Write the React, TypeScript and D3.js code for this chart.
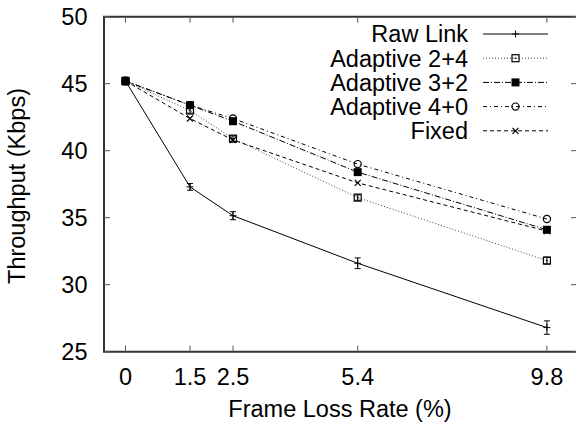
import React from "react";
import * as d3 from "d3";

const LOSS = [0, 1.5, 2.5, 5.4, 9.8];
const SERIES_NAMES = ["Raw Link", "Adaptive 2+4", "Adaptive 3+2", "Adaptive 4+0", "Fixed"];
const RAW_LINK = [45.2, 37.3, 35.15, 31.6, 26.8];
const RAW_LINK_ERR = [0.3, 0.25, 0.3, 0.4, 0.5];
const ADAPTIVE_24 = [45.2, 43.0, 40.9, 36.5, 31.8];
const ADAPTIVE_24_ERR = [0.2, 0.2, 0.2, 0.2, 0.25];
const ADAPTIVE_32 = [45.2, 43.4, 42.2, 38.4, 34.1];
const ADAPTIVE_40 = [45.2, 43.4, 42.4, 39.0, 34.9];
const FIXED = [45.2, 42.4, 40.8, 37.6, 34.0];
const Y_TICKS = [25, 30, 35, 40, 45, 50];

const SERIES = [RAW_LINK, ADAPTIVE_24, ADAPTIVE_32, ADAPTIVE_40, FIXED];
const ERRORS = [RAW_LINK_ERR, ADAPTIVE_24_ERR, null, null, null];
const DASHES = ["none", "1,2", "6,2,1,2", "4,3,1,3", "4,3"];
const STROKES = ["#000", "#444", "#000", "#000", "#000"];

const W = 576;
const H = 425;
const m = { left: 104, right: 577, top: 16.7, bottom: 351.7 };
const FONT = "'Liberation Sans', Arial, sans-serif";
const FS = 23.5;

function Marker({ kind, x, y }: { kind: number; x: number; y: number }) {
  if (kind === 0)
    return (
      <path d={`M${x - 3.5},${y}H${x + 3.5}M${x},${y - 3.5}V${y + 3.5}`} stroke="#000" strokeWidth={1} />
    );
  if (kind === 1)
    return (
      <g>
        <rect x={x - 3.5} y={y - 3.5} width={7} height={7} fill="none" stroke="#000" strokeWidth={1.2} />
        <rect x={x - 0.7} y={y - 0.7} width={1.4} height={1.4} fill="#000" />
      </g>
    );
  if (kind === 2) return <rect x={x - 4} y={y - 4} width={8} height={8} fill="#000" />;
  if (kind === 3)
    return <circle cx={x} cy={y} r={3.6} fill="none" stroke="#000" strokeWidth={1.2} />;
  return (
    <path d={`M${x - 3},${y - 3}L${x + 3},${y + 3}M${x - 3},${y + 3}L${x + 3},${y - 3}`} stroke="#000" strokeWidth={1.2} />
  );
}

const App = () => {
  const x = d3.scaleLinear().domain([-0.5, 10.5]).range([m.left, m.right]);
  const y = d3.scaleLinear().domain([25, 50]).range([m.bottom, m.top]);
  const line = d3
    .line<number>()
    .x((_, i) => x(LOSS[i]))
    .y((d) => y(d));
  const tick = 6;

  return (
    <svg
      width={W}
      height={H}
      style={{ position: "absolute", left: 0, top: 0 }}
      fontFamily={FONT}
    >
      <rect width={W} height={H} fill="#fff" />
      {/* frame */}
      <path
        d={`M${m.left},${m.top}V${m.bottom}H${m.right}V${m.top}Z`}
        fill="none"
        stroke="#333"
        strokeWidth={2}
      />
      {/* y ticks */}
      {Y_TICKS.map((t) => (
        <g key={"y" + t}>
          <line x1={m.left} x2={m.left + tick} y1={y(t)} y2={y(t)} stroke="#555" />
          <line x1={m.right - tick} x2={m.right} y1={y(t)} y2={y(t)} stroke="#555" />
          <text x={87.5} y={y(t)} dy="0.36em" textAnchor="end" fontSize={FS}>
            {t}
          </text>
        </g>
      ))}
      {/* x ticks */}
      {LOSS.map((t) => (
        <g key={"x" + t}>
          <line x1={x(t)} x2={x(t)} y1={m.bottom} y2={m.bottom - tick} stroke="#555" />
          <line x1={x(t)} x2={x(t)} y1={m.top} y2={m.top + tick} stroke="#555" />
          <text x={x(t)} y={385} textAnchor="middle" fontSize={FS}>
            {t}
          </text>
        </g>
      ))}
      <text x={340} y={417} textAnchor="middle" fontSize={FS}>
        Frame Loss Rate (%)
      </text>
      <text
        transform={`translate(25,186) rotate(-90)`}
        textAnchor="middle"
        fontSize={FS}
      >
        Throughput (Kbps)
      </text>
      {/* series */}
      {SERIES.map((s, k) => (
        <g key={"s" + k}>
          <path
            d={line(s) || ""}
            fill="none"
            stroke={STROKES[k]}
            strokeWidth={1}
            strokeDasharray={DASHES[k]}
          />
          {ERRORS[k] &&
            s.map((v, i) => {
              const e = ERRORS[k]![i];
              const cx = x(LOSS[i]);
              return (
                <path
                  key={i}
                  d={`M${cx},${y(v - e)}V${y(v + e)}M${cx - 3},${y(v - e)}H${cx + 3}M${cx - 3},${y(v + e)}H${cx + 3}`}
                  stroke="#000"
                  strokeWidth={1}
                  fill="none"
                />
              );
            })}
          {s.map((v, i) => (
            <Marker key={i} kind={k} x={x(LOSS[i])} y={y(v)} />
          ))}
        </g>
      ))}
      {/* legend */}
      {SERIES_NAMES.map((name, k) => {
        const ly = 34 + k * 24.2;
        return (
          <g key={"l" + k}>
            <text x={468} y={ly} dy="0.36em" textAnchor="end" fontSize={FS}>
              {name}
            </text>
            <line
              x1={483}
              x2={548}
              y1={ly}
              y2={ly}
              stroke={STROKES[k]}
              strokeWidth={1}
              strokeDasharray={DASHES[k]}
            />
            <Marker kind={k} x={515.5} y={ly} />
          </g>
        );
      })}
    </svg>
  );
};

export default App;
